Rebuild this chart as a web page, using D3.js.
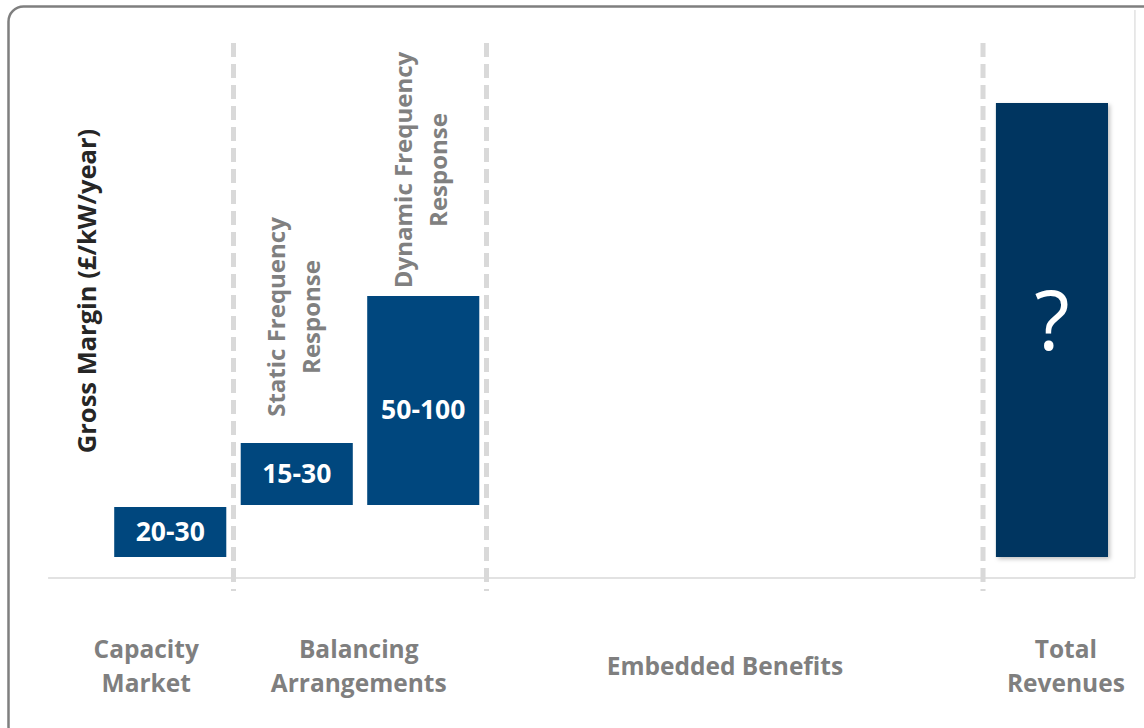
<!DOCTYPE html>
<html>
	<head>
		<meta http-equiv='Content-Type' content='text/html;charset=utf-8'/>
		<title>Gross Margin Stack</title>
		<script src='https://d3js.org/d3.v7.min.js'></script>
		<style>
			body { margin: 0; background: #ffffff; }
			text { font-family: 'Open Sans', 'Noto Sans', sans-serif; }
		</style>
	</head>

	<body>
		<script>
		'use strict'
		// data (units: half a pixel of the original, roughly £/kW/year)
		const categories = ['Capacity Market', 'Static Frequency Response', 'Dynamic Frequency Response', 'Total Revenues']
		const slots = [0, 1, 2, 6.97]
		const barStart = [0, 26, 26, 0]
		const barEnd = [25, 57, 130.5, 227]
		const barLabels = ['20-30', '15-30', '50-100', '?']
		const labelAt = [12.5, 41.5, 73.5, 118]
		const barTitles = [null, ['Static Frequency', 'Response'], ['Dynamic Frequency', 'Response'], null]
		const titleAt = [null, 120, 193.5, null]
		const sections = [['Capacity', 'Market'], ['Balancing', 'Arrangements'], ['Embedded Benefits'], ['Total', 'Revenues']]
		const sectionCentre = [0.31, 1.99, 4.885, 7.58]
		const dividers = [1, 3, 6.925]
		const yTitle = 'Gross Margin (£/kW/year)'

		const width = 1144
		const height = 728

		const x = d3.scaleLinear().domain([0, 8]).range([107, 1119])
		const y = d3.scaleLinear().domain([-10, 275]).range([577, 7])

		const svg = d3.select('body').append('svg')
			.attr('width', width)
			.attr('height', height)

		const defs = svg.append('defs')
		defs.append('filter')
			.attr('id', 'shadow')
			.attr('x', '-10%').attr('y', '-10%')
			.attr('width', '130%').attr('height', '130%')
			.append('feDropShadow')
			.attr('dx', 2).attr('dy', 2)
			.attr('stdDeviation', 2)
			.attr('flood-color', '#000')
			.attr('flood-opacity', 0.25)

		// outer rounded frame (runs off the right and bottom edges)
		svg.append('rect')
			.attr('x', 8.5).attr('y', 6.5)
			.attr('width', 1160).attr('height', 735)
			.attr('rx', 15).attr('ry', 15)
			.attr('fill', '#ffffff')
			.attr('stroke', '#7f7f7f')
			.attr('stroke-width', 2.5)

		// plot area: right edge and baseline
		svg.append('line')
			.attr('x1', x(8.126)).attr('x2', x(8.126))
			.attr('y1', 10).attr('y2', y(-10.5))
			.attr('stroke', '#d9d9d9').attr('stroke-width', 1.2)
		svg.append('line')
			.attr('x1', x(-0.466)).attr('x2', x(8.126))
			.attr('y1', y(-10.5)).attr('y2', y(-10.5))
			.attr('stroke', '#d9d9d9').attr('stroke-width', 1.5)

		// section dividers
		svg.selectAll('.divider')
			.data(dividers)
			.enter().append('line')
			.attr('class', 'divider')
			.attr('x1', function(d) { return x(d) })
			.attr('x2', function(d) { return x(d) })
			.attr('y1', y(257))
			.attr('y2', y(-17))
			.attr('stroke', '#d9d9d9')
			.attr('stroke-width', 5)
			.attr('stroke-dasharray', '14 7')

		draw()

		/**
		 * draw
		 * Bars, their labels and the text around them.
		 */
		function draw()
		{
			const pad = 0.057
			for (let i = 0; i < categories.length; i++)
			{
				const s = slots[i]
				const last = i == categories.length - 1
				const x0 = x(s + pad)
				const x1 = x(s + 1 - pad)
				const cx = (x0 + x1) / 2

				svg.append('rect')
					.attr('x', x0)
					.attr('y', y(barEnd[i]))
					.attr('width', x1 - x0)
					.attr('height', y(barStart[i]) - y(barEnd[i]))
					.attr('fill', last ? '#003660' : '#00477e')
					.attr('filter', last ? 'url(#shadow)' : null)

				svg.append('text')
					.attr('x', cx)
					.attr('y', y(labelAt[i]))
					.attr('dy', '0.35em')
					.attr('text-anchor', 'middle')
					.attr('fill', '#ffffff')
					.attr('font-weight', last ? 'normal' : 'bold')
					.attr('font-size', last ? 82 : 26.5)
					.text(barLabels[i])

				if (barTitles[i])
				{
					const t = svg.append('text')
						.attr('transform', 'translate(' + cx + ',' + y(titleAt[i]) + ') rotate(-90)')
						.attr('text-anchor', 'middle')
						.attr('fill', '#808080')
						.attr('font-weight', 'bold')
						.attr('font-size', 24)
					t.selectAll('tspan')
						.data(barTitles[i])
						.enter().append('tspan')
						.attr('x', 0)
						.attr('y', function(d, k) { return k == 0 ? -11.5 : 23.5 })
						.text(function(d) { return d })
				}
			}

			// section names below the axis
			for (let i = 0; i < sections.length; i++)
			{
				const lines = sections[i]
				const t = svg.append('text')
					.attr('text-anchor', 'middle')
					.attr('fill', '#7f7f7f')
					.attr('font-weight', 'bold')
					.attr('font-size', 24.5)
				t.selectAll('tspan')
					.data(lines)
					.enter().append('tspan')
					.attr('x', x(sectionCentre[i]))
					.attr('y', function(d, k) { return lines.length == 1 ? 675 : 658 + k * 34 })
					.text(function(d) { return d })
			}

			// y axis title
			svg.append('text')
				.attr('transform', 'translate(96,291) rotate(-90)')
				.attr('text-anchor', 'middle')
				.attr('fill', '#262626')
				.attr('font-weight', 'bold')
				.attr('font-size', 25.5)
				.text(yTitle)
		}
		</script>
	</body>
</html>
